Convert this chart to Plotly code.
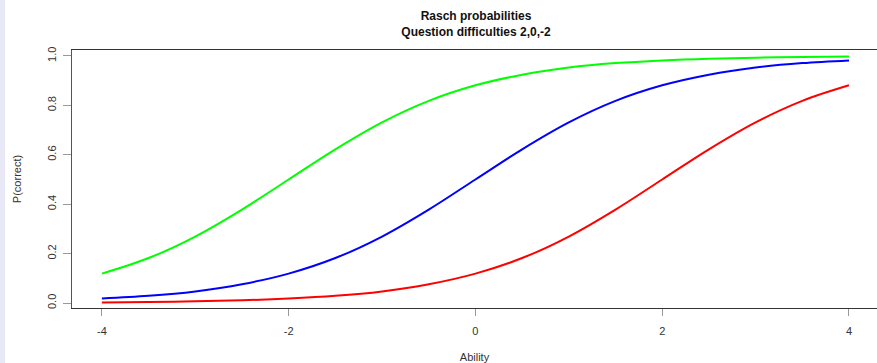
import plotly.graph_objects as go

ability = [-4, -3.5, -3, -2.5, -2, -1.5, -1, -0.5, 0, 0.5, 1, 1.5, 2, 2.5, 3, 3.5, 4]
p_easy = [0.119, 0.182, 0.269, 0.378, 0.500, 0.622, 0.731, 0.818, 0.881, 0.924, 0.953, 0.971, 0.982, 0.989, 0.993, 0.996, 0.998]
p_mid = [0.018, 0.029, 0.047, 0.076, 0.119, 0.182, 0.269, 0.378, 0.500, 0.622, 0.731, 0.818, 0.881, 0.924, 0.953, 0.971, 0.982]
p_hard = [0.002, 0.004, 0.007, 0.011, 0.018, 0.029, 0.047, 0.076, 0.119, 0.182, 0.269, 0.378, 0.500, 0.622, 0.731, 0.818, 0.881]
x_ticks = [-4, -2, 0, 2, 4]
y_ticks = [0.0, 0.2, 0.4, 0.6, 0.8, 1.0]
y_tick_labels = ["0.0", "0.2", "0.4", "0.6", "0.8", "1.0"]

W, H = 877, 363
L, R, T, B = 72, 0, 50, 55
PW, PH = W - L - R, H - T - B

fig = go.Figure()
for ys, col in [(p_hard, "#ff0000"), (p_mid, "#0000ff"), (p_easy, "#00ff00")]:
    fig.add_trace(go.Scatter(x=ability, y=ys, mode="lines",
                             line=dict(color=col, width=2, shape="spline"),
                             showlegend=False, hoverinfo="skip"))

font = "Liberation Sans, Arial, Helvetica, sans-serif"
fig.update_layout(
    width=W, height=H,
    margin=dict(l=L, r=R, t=T, b=B, autoexpand=False),
    paper_bgcolor="white", plot_bgcolor="white",
    font=dict(family=font, size=11, color="#333"),
    title=dict(text="<b>Rasch probabilities</b><br><b>Question difficulties 2,0,-2</b>",
               x=476 / W, xanchor="center", y=1 - 20 / H, yanchor="middle",
               font=dict(family=font, size=12, color="#111")),
    xaxis=dict(range=[-4.32, 4.30], tickvals=x_ticks, ticktext=[str(v) for v in x_ticks],
               showgrid=False, zeroline=False, showline=True, linecolor="#333", linewidth=1,
               mirror=True, ticks="outside", ticklen=7, tickcolor="#999", tickwidth=1,
               ticklabelstandoff=6, automargin=False,
               title=dict(text="Ability", standoff=20, font=dict(size=11, color="#333"))),
    yaxis=dict(range=[-0.0202, 1.024], tickvals=y_ticks, ticktext=y_tick_labels,
               tickangle=-90,
               showgrid=False, zeroline=False, showline=True, linecolor="#555", linewidth=1,
               ticks="outside", ticklen=8, tickcolor="#999", tickwidth=1,
               ticklabelstandoff=3, automargin=False,
               title=dict(text="P(correct)", standoff=21, font=dict(size=11, color="#333"))),
    shapes=[dict(type="rect", xref="paper", yref="paper",
                 x0=-L / PW, x1=-(L - 5) / PW, y0=-B / PH, y1=(PH + T) / PH,
                 fillcolor="#e8e8f6", line=dict(width=0), layer="below")],
)

fig.write_html("out.html", config={"displayModeBar": False, "staticPlot": True},
               post_script="document.body.style.margin='0';document.body.style.overflow='hidden';")
